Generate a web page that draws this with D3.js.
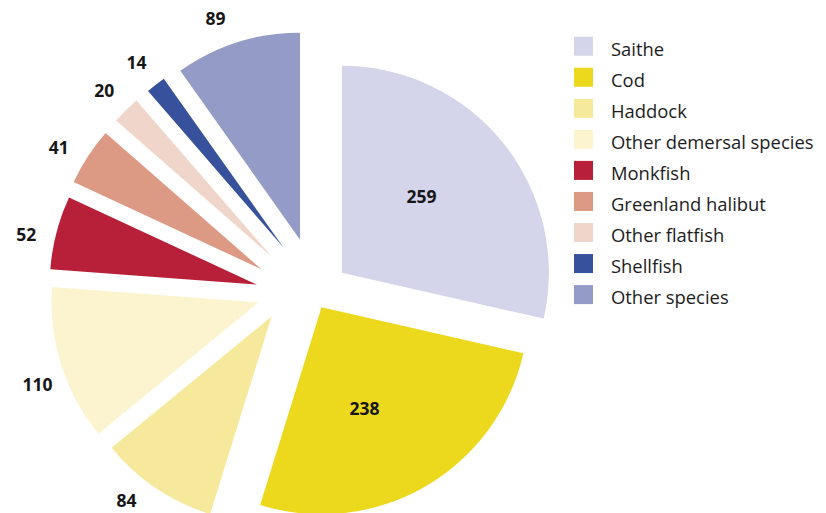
<!DOCTYPE html>
<html>
<head>
<meta charset="utf-8">
<script src="https://cdn.jsdelivr.net/npm/d3@7"></script>
<style>
  body { margin: 0; background: #fff; }
  svg { display: block; font-family: "Open Sans", sans-serif; }
</style>
</head>
<body>
<svg></svg>
<script>
const species = ['Saithe', 'Cod', 'Haddock', 'Other demersal species', 'Monkfish',
  'Greenland halibut', 'Other flatfish', 'Shellfish', 'Other species'];
const catches = [259, 238, 84, 110, 52, 41, 20, 14, 89];
const colours = ['#d4d4ea', '#ecd91d', '#f6e99b', '#fcf4cf', '#b81f39',
  '#dc9a84', '#f0d6ca', '#38519c', '#949bc6'];

// pull-out of each piece: distance and direction (deg, clockwise from 12 o'clock)
const explodeDist = [38, 22, 45, 51, 51.5, 51, 49, 49, 51];
const explodeDir = [63, 142, 234, 256, 276, 294, 312.5, 330, 351];
// small turn of each value label away from the middle of its piece (deg)
const labelTurn = [-5, 7, 4, -3, -2.3, -2.2, -0.4, -0.4, -3.3];

const width = 826;
const height = 513;
const cx = 308, cy = 290, radius = 207;

const data = species.map((name, i) => ({name, value: catches[i]}));

const svg = d3.select('svg')
  .attr('width', width)
  .attr('height', height);

const pie = d3.pie().sort(null).value(d => d.value);
const arc = d3.arc().innerRadius(0).outerRadius(radius);
const color = d3.scaleOrdinal().domain(species).range(colours);

const offset = i => {
  const a = explodeDir[i] * Math.PI / 180;
  return [explodeDist[i] * Math.sin(a), -explodeDist[i] * Math.cos(a)];
};

const g = svg.append('g').attr('transform', `translate(${cx},${cy})`);

const slices = g.selectAll('g.slice')
  .data(pie(data))
  .join('g')
  .attr('class', 'slice')
  .attr('transform', d => `translate(${offset(d.index)})`);

slices.append('path')
  .attr('d', arc)
  .attr('fill', d => color(d.data.name));

// labels: big pieces inside, the rest outside the rim
slices.append('text')
  .attr('transform', d => {
    const mid = (d.startAngle + d.endAngle) / 2 + labelTurn[d.index] * Math.PI / 180;
    const inside = d.endAngle - d.startAngle > Math.PI / 3;
    const r = inside ? 110 : 236;
    const x = r * Math.sin(mid);
    const [, oy] = offset(d.index);
    const y = Math.min(-r * Math.cos(mid), height - cy - oy - 12);
    return `translate(${x},${y})`;
  })
  .attr('text-anchor', 'middle')
  .attr('dy', '0.35em')
  .attr('font-size', 17.5)
  .attr('font-weight', 700)
  .attr('fill', '#161616')
  .text(d => d.data.value);

// legend
const legend = svg.append('g').attr('transform', 'translate(574,36.7)');
const row = legend.selectAll('g')
  .data(species)
  .join('g')
  .attr('transform', (d, i) => `translate(0,${i * 31.05})`);

row.append('rect')
  .attr('width', 19)
  .attr('height', 19)
  .attr('fill', d => color(d));

row.append('text')
  .attr('x', 37)
  .attr('y', 19)
  .attr('font-size', 18.4)
  .attr('fill', '#1c1c1c')
  .text(d => d);
</script>
</body>
</html>
